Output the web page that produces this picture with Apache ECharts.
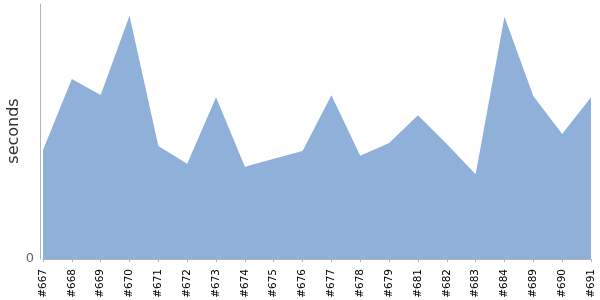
<!DOCTYPE html>
<html><head><meta charset="utf-8">
<script src="https://cdn.jsdelivr.net/npm/echarts@6/dist/echarts.min.js"></script>
<style>html,body{margin:0;padding:0;background:#fff}#c{width:600px;height:300px}</style>
</head><body><div id="c"></div>
<script>
const categories = ["#667","#668","#669","#670","#671","#672","#673","#674","#675","#676","#677","#678","#679","#681","#682","#683","#684","#689","#690","#691"];
const seconds = [42.7,70.6,64.3,95.4,44.3,37.4,63.4,36.2,39.3,42.4,64.2,40.5,45.5,56.4,45.1,33.2,95.0,63.9,49.0,63.4];
const yTickLabels = ["0"];
const yAxisTitle = "seconds";

const chart = echarts.init(document.getElementById('c'), null, {renderer:'canvas'});
chart.setOption({
  animation:false,
  grid:{left:43,right:9,top:4,bottom:41,containLabel:false,outerBoundsMode:'none'},
  graphic:[{type:'text',x:14,y:131,rotation:Math.PI/2,
    style:{text:yAxisTitle,fill:'#333',font:'16px "DejaVu Sans"',align:'center',verticalAlign:'middle'}}],
  xAxis:{type:'category',data:categories,boundaryGap:false,offset:4,
    axisLine:{lineStyle:{color:'#b4b4b4',width:1}},
    axisTick:{alignWithLabel:true,length:3,lineStyle:{color:'#b4b4b4'}},
    axisLabel:{rotate:90,interval:0,color:'#000',fontFamily:'DejaVu Sans',fontSize:10.5,margin:6},
    splitLine:{show:false}},
  yAxis:{type:'value',min:0,max:100,interval:100,offset:3,
    axisLine:{show:true,lineStyle:{color:'#b4b4b4',width:1}},
    axisTick:{show:false},
    splitLine:{show:false},
    axisLabel:{color:'#666',fontFamily:'DejaVu Sans',fontSize:13,margin:6,
      formatter:function(v){return v===0?yTickLabels[0]:'';}}},
  series:[{type:'line',data:seconds,symbol:'none',
    lineStyle:{width:0},
    areaStyle:{color:'#8fb1d9',opacity:1}}]
});
</script></body></html>
